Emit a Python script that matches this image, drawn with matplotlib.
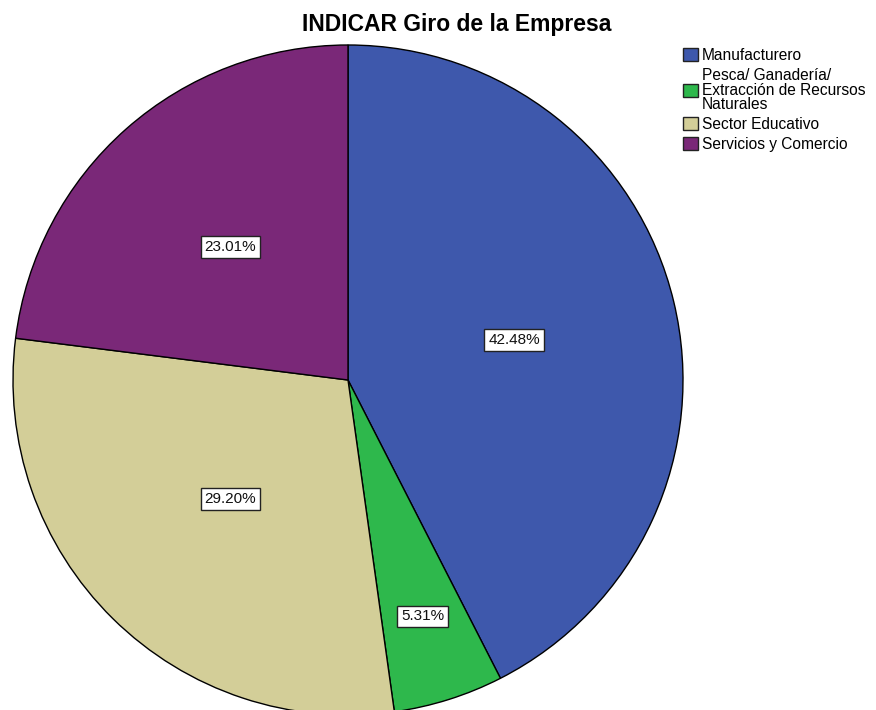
import numpy as np
import matplotlib
matplotlib.use("Agg")
import matplotlib.pyplot as plt

categories = ["Manufacturero",
              "Pesca/ Ganadería/\nExtracción de Recursos\nNaturales",
              "Sector Educativo",
              "Servicios y Comercio"]
percentages = [42.48, 5.31, 29.20, 23.01]
colors = ["#3E58AC", "#2EB84C", "#D3CE98", "#7A2878"]
title = "INDICAR Giro de la Empresa"

plt.rcParams['font.family'] = ['Liberation Sans', 'DejaVu Sans']

W, H = 876, 710
fig = plt.figure(figsize=(W / 100, H / 100), dpi=100)
fig.patch.set_facecolor("white")

# pie axes: circle from x=13..683 px, y=45..715 px (top origin)
cx, cy, r = 348, 380, 335
ax = fig.add_axes([(cx - r) / W, (H - cy - r) / H, 2 * r / W, 2 * r / H])
wedges, _ = ax.pie(percentages, colors=colors, startangle=90, counterclock=False,
                   radius=1, wedgeprops=dict(edgecolor="black", linewidth=1.0))
ax.set_xlim(-1, 1)
ax.set_ylim(-1, 1)
ax.set_aspect("equal")
ax.axis("off")
for w in wedges:
    w.set_clip_on(False)

label_r = [0.51, 0.74, 0.50, 0.53]
for w, p, lr in zip(wedges, percentages, label_r):
    ang = np.deg2rad((w.theta1 + w.theta2) / 2)
    ax.text(lr * np.cos(ang), lr * np.sin(ang), f"{p:.2f}%", ha="center", va="center",
            fontsize=11, color="#111111",
            bbox=dict(boxstyle="square,pad=0.25", facecolor="white",
                      edgecolor="#222222", linewidth=1.0))

fig.text(457 / W, 1 - 24 / H, title, ha="center", va="center",
         fontsize=16.5, fontweight="bold", color="black")

leg = fig.legend(wedges, categories, loc="upper left",
                 bbox_to_anchor=(683 / W, 1 - 48 / H), frameon=False,
                 fontsize=11.2, handlelength=0.95, handleheight=0.9,
                 handletextpad=0.25, labelspacing=0.32, borderpad=0,
                 borderaxespad=0)
for t in leg.get_texts():
    t.set_linespacing(0.97)
for h in leg.legend_handles:
    h.set_linewidth(1.0)
    h.set_edgecolor("#222222")

fig.savefig("out.png", dpi=100, facecolor="white")
